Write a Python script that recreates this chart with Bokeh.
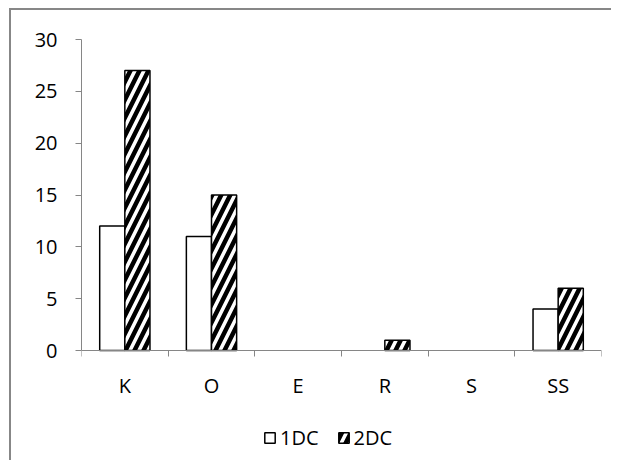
from bokeh.plotting import figure
from bokeh.models import (ColumnDataSource, Range1d, FixedTicker, Legend, LegendItem,
                          CDSView, BooleanFilter)
from bokeh.core.properties import value
from bokeh.embed import file_html
from bokeh.resources import INLINE
import numpy as np

categories = ["K", "O", "E", "R", "S", "SS"]
dc1 = [12, 11, 0, 0, 0, 4]
dc2 = [27, 15, 0, 1, 0, 6]
y_ticks = [0, 5, 10, 15, 20, 25, 30]
series_names = ["1DC", "2DC"]

FONT = "Open Sans"
GRAY = "#868686"

idx = np.arange(len(categories))
bar_w = 0.29
y_top = 30
# frame extends below zero so the legend sits inside the frame
y_bottom = -y_top * 110 / 311

p = figure(frame_width=520, frame_height=421,
           x_range=Range1d(0, len(categories)), y_range=Range1d(y_bottom, y_top),
           output_backend="svg", toolbar_location=None,
           min_border_left=70, min_border_right=10, min_border_top=29, min_border_bottom=0)
p.styles = {"border-top": "2px solid #878787", "border-left": "2px solid #878787",
            "margin-left": "9px", "margin-top": "8px"}
p.outline_line_color = None
p.xgrid.visible = False
p.ygrid.visible = False
p.background_fill_color = "white"
p.border_fill_color = "white"

src1 = ColumnDataSource(dict(x=idx + 0.5 - bar_w / 2, top=dc1))
src2 = ColumnDataSource(dict(x=idx + 0.5 + bar_w / 2, top=dc2))
v1 = CDSView(filter=BooleanFilter([v > 0 for v in dc1]))
v2 = CDSView(filter=BooleanFilter([v > 0 for v in dc2]))

r1 = p.vbar(x="x", top="top", width=bar_w, bottom=0, source=src1, view=v1,
            fill_color="white", line_color="black", line_width=1.5)
r2 = p.vbar(x="x", top="top", width=bar_w, bottom=0, source=src2, view=v2,
            fill_color="white", line_color="black", line_width=1.5,
            hatch_pattern="/", hatch_color="black", hatch_scale=18, hatch_weight=4.5)

# category labels under the zero line
lab_src = ColumnDataSource(dict(x=idx + 0.5, text=categories))
p.text(x="x", y=-3.4, text="text", source=lab_src, text_align="center",
       text_baseline="middle", text_font=value(FONT), text_font_size=value("20px"),
       text_color="black")

# x axis drawn at y = 0 with boundary ticks
xa = p.xaxis[0]
xa.fixed_location = 0
xa.ticker = FixedTicker(ticks=[], minor_ticks=list(range(len(categories) + 1)))
xa.major_tick_line_color = None
xa.major_tick_out = 0
xa.major_tick_in = 0
xa.minor_tick_line_color = GRAY
xa.minor_tick_out = 6
xa.minor_tick_in = 0
xa.axis_line_color = GRAY
xa.major_label_standoff = 0
xa.major_label_text_font_size = "1px"
xa.major_label_text_alpha = 0

# y axis
ya = p.yaxis[0]
ya.bounds = (0, y_top)
ya.ticker = FixedTicker(ticks=y_ticks)
ya.minor_tick_line_color = None
ya.major_tick_line_color = GRAY
ya.major_tick_out = 6
ya.major_tick_in = 0
ya.axis_line_color = GRAY
ya.major_label_text_font = FONT
ya.major_label_text_font_size = "20px"
ya.major_label_text_color = "black"
ya.major_label_standoff = 18

legend = Legend(items=[LegendItem(label=series_names[0], renderers=[r1]),
                       LegendItem(label=series_names[1], renderers=[r2])],
                orientation="horizontal", location=(182, 9))
legend.border_line_color = None
legend.background_fill_alpha = 0
legend.label_text_font = FONT
legend.label_text_font_size = "20px"
legend.label_text_color = "black"
legend.glyph_width = 13
legend.glyph_height = 13
legend.label_standoff = 4
legend.spacing = 18
legend.padding = 0
legend.margin = 0
p.add_layout(legend, "center")

open("out.html", "w").write(file_html(p, INLINE))
